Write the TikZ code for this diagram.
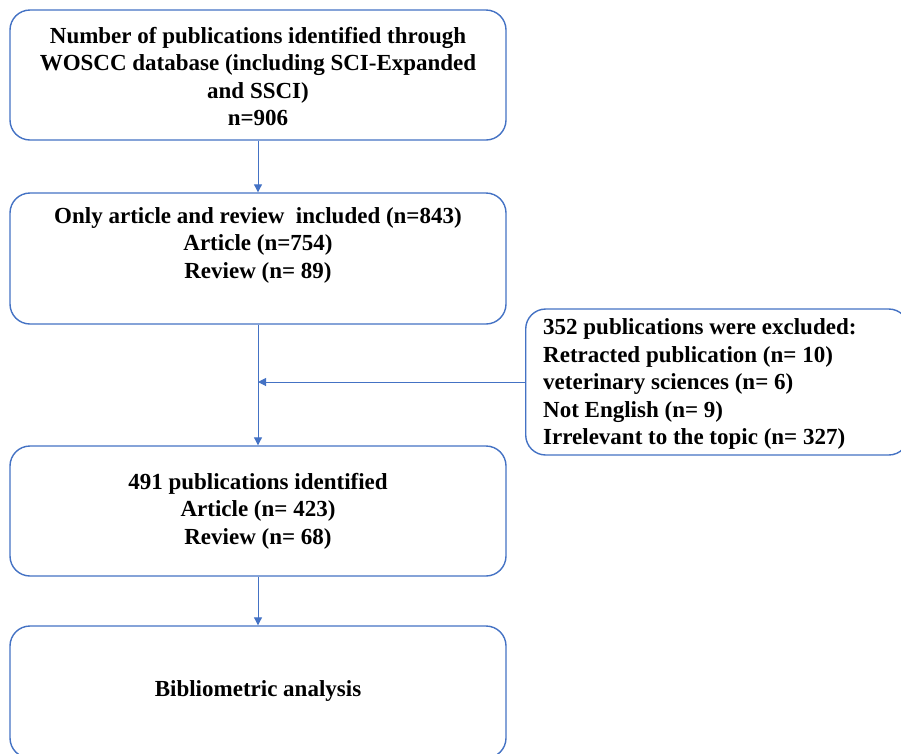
\documentclass[tikz,border=0pt]{standalone}
\usepackage{fontspec}
\setmainfont{Liberation Serif}
\usetikzlibrary{arrows.meta}
\definecolor{boxblue}{HTML}{4472C4}
\begin{document}
\begin{tikzpicture}[x=1pt,y=-1pt,
  box/.style={draw=boxblue,line width=1.4pt,rounded corners=20pt,fill=white},
  txt/.style={font=\fontsize{23}{27.5}\selectfont\bfseries,align=center,inner sep=0pt},
  link/.style={draw=boxblue,line width=1pt,-{Triangle[width=8pt,length=8pt]}}]
\useasboundingbox (0,0) rectangle (901,753);
\clip (0,0) rectangle (901,753);
\node[box,minimum width=496pt,minimum height=130pt] (b1) at (258,75) {};
\node[txt] (t1) at (258,76.5) {Number of publications identified through\\WOSCC database (including SCI-Expanded\\and SSCI)\\n=906};
\node[box,minimum width=496pt,minimum height=131pt] (b2) at (258,258.5) {};
\node[txt] (t2) at (258,245) {Only article and review\ \ included (n=843)\\Article (n=754)\\Review (n= 89)};
\node[box,minimum width=383pt,minimum height=146pt,anchor=west] (b3) at (525,382) {};
\node[txt,align=left,anchor=west] (t3) at (543,384) {352 publications were excluded:\\Retracted publication (n= 10)\\veterinary sciences (n= 6)\\Not English (n= 9)\\Irrelevant to the topic (n= 327)};
\node[box,minimum width=496pt,minimum height=130pt] (b4) at (258,511) {};
\node[txt] (t4) at (258,511) {491 publications identified\\Article (n= 423)\\Review (n= 68)};
\node[box,minimum width=496pt,minimum height=132pt] (b5) at (258,692) {};
\node[txt] (t5) at (258,691) {Bibliometric analysis};
\coordinate (m) at (258,382);
\draw[link] (b1.south) -- (b2.north);
\draw[link] (b2.south) -- (b4.north);
\draw[link] (b4.south) -- (b5.north);
\draw[link] (b3.west) -- (m);
\end{tikzpicture}
\end{document}
